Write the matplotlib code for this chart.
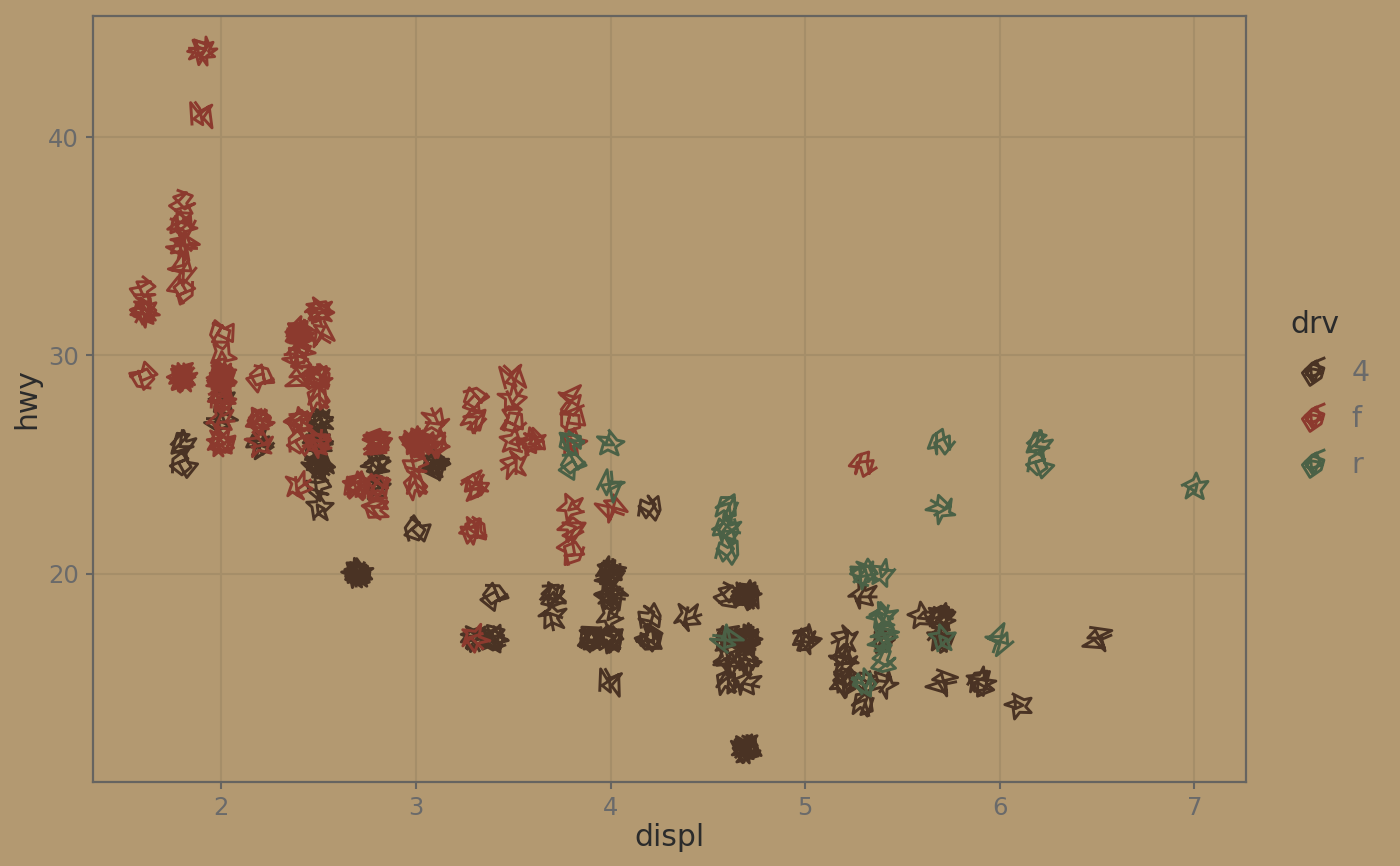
import matplotlib
matplotlib.use('Agg')
import matplotlib.pyplot as plt
from matplotlib.lines import Line2D
from matplotlib.markers import MarkerStyle
from matplotlib.path import Path
from matplotlib.transforms import Affine2D

# mpg values, one list per drv level
displ_4 = [1.8, 1.8, 2.0, 2.0, 2.8, 2.8, 3.1, 3.1, 2.8, 3.1, 4.2,
           5.3, 5.3, 5.3, 5.7, 6.5,
           3.7, 3.7, 3.9, 3.9, 4.7, 4.7, 4.7, 5.2, 5.2,
           3.9, 4.7, 4.7, 4.7, 5.2, 5.7, 5.9,
           4.7, 4.7, 4.7, 4.7, 4.7, 4.7, 5.2, 5.2, 5.7, 5.9,
           4.0, 4.0, 4.0, 4.0, 4.6, 5.0,
           4.2, 4.2, 4.6, 4.6, 4.6, 5.4, 5.4,
           3.0, 3.7, 4.0, 4.7, 4.7, 4.7, 5.7, 6.1,
           4.0, 4.2, 4.4, 4.6,
           4.0, 4.0, 4.6, 5.0,
           3.3, 3.3, 4.0, 5.6,
           2.5, 2.5, 2.5, 2.5, 2.5, 2.5,
           2.2, 2.2, 2.5, 2.5, 2.5, 2.5, 2.5, 2.5,
           2.7, 2.7, 3.4, 3.4, 4.0, 4.7,
           4.7, 4.7, 4.7, 5.7, 5.7,
           2.7, 2.7, 2.7, 3.4, 3.4, 4.0, 4.0]
hwy_4 = [26, 25, 28, 27, 25, 25, 25, 25, 24, 25, 23,
         19, 14, 15, 17, 17,
         19, 18, 17, 17, 19, 19, 12, 17, 15,
         17, 17, 12, 17, 16, 18, 15,
         16, 12, 17, 17, 16, 12, 15, 16, 17, 15,
         17, 17, 18, 19, 19, 17,
         17, 17, 16, 16, 17, 15, 17,
         22, 19, 20, 17, 12, 19, 18, 14,
         15, 18, 18, 15,
         17, 19, 17, 17,
         17, 17, 20, 18,
         25, 24, 27, 25, 26, 23,
         26, 26, 26, 26, 25, 27, 25, 27,
         20, 20, 19, 17, 20, 17,
         15, 19, 19, 18, 15,
         20, 20, 20, 17, 17, 19, 20]

displ_f = [1.8, 1.8, 2.0, 2.0, 2.8, 2.8, 3.1,
           2.4, 2.4, 3.1, 3.5, 3.6,
           2.4, 3.0, 3.3, 3.3, 3.3, 3.3, 3.3, 3.8, 3.8, 3.8, 4.0,
           1.6, 1.6, 1.6, 1.6, 1.6, 1.8, 1.8, 1.8, 2.0,
           2.4, 2.4, 2.4, 2.4, 2.5, 2.5, 3.3,
           2.0, 2.0, 2.0, 2.0, 2.7, 2.7, 2.7,
           2.4, 2.4, 2.5, 2.5, 3.5, 3.5, 3.0, 3.0, 3.5,
           3.1, 3.8, 3.8, 3.8, 5.3,
           2.2, 2.2, 2.4, 2.4, 3.0, 3.0, 3.5,
           2.2, 2.2, 2.4, 2.4, 3.0, 3.0, 3.3,
           1.8, 1.8, 1.8, 1.8, 1.8,
           2.0, 2.0, 2.0, 2.0, 2.8,
           1.9, 2.0, 2.0, 2.0, 2.0, 2.5, 2.5, 2.8, 2.8,
           1.9, 1.9, 2.0, 2.0, 2.5, 2.5,
           1.8, 1.8, 2.0, 2.0, 2.8, 2.8, 3.6, 2.5, 3.0]
hwy_f = [29, 29, 31, 30, 26, 26, 27,
         27, 30, 26, 29, 26,
         24, 24, 22, 22, 24, 24, 17, 22, 21, 23, 23,
         33, 32, 32, 29, 32, 34, 36, 36, 29,
         26, 27, 30, 31, 26, 26, 28,
         26, 29, 28, 27, 24, 24, 24,
         29, 31, 32, 32, 27, 26, 26, 26, 25,
         26, 27, 26, 28, 25,
         26, 27, 31, 31, 26, 26, 28,
         27, 29, 31, 31, 26, 26, 27,
         33, 29, 35, 37, 35,
         29, 29, 28, 29, 24,
         44, 29, 26, 29, 29, 29, 29, 23, 24,
         44, 41, 29, 26, 28, 29,
         29, 29, 28, 29, 26, 26, 26, 31, 25]

displ_r = [5.3, 5.3, 5.3, 5.7, 6.0,
           5.7, 5.7, 6.2, 6.2, 7.0,
           4.6, 5.4, 5.4,
           3.8, 3.8, 4.0, 4.0, 4.6, 4.6, 4.6, 4.6, 5.4,
           5.4, 5.4, 5.4]
hwy_r = [20, 15, 20, 17, 17,
         26, 23, 26, 25, 24,
         17, 17, 18,
         26, 25, 26, 24, 21, 22, 23, 22, 20,
         17, 16, 18]

levels = ['4', 'f', 'r']

# hand drawn scribbles used as point markers
scribbles = [
    [(-0.9, -0.2), (0.1, 0.9), (0.3, 0.1), (1.0, 0.3), (0.2, -0.9), (-0.7, -0.6), (0.5, 0.6),
     (-0.4, 0.7), (-0.8, -0.8), (0.8, -0.3), (-0.2, -0.3), (0.0, 1.0)],
    [(-1.0, 0.1), (-0.2, 0.8), (0.9, 0.6), (0.4, -0.2), (0.8, -0.8), (-0.5, -0.9), (-0.1, 0.3),
     (0.6, 0.0), (-0.7, 0.6), (-0.6, -0.5), (0.3, -0.6), (0.7, 0.8)],
    [(0.0, 1.0), (0.5, 0.1), (1.0, -0.1), (0.3, -0.4), (0.4, -1.0), (-0.3, -0.5), (-0.9, -0.7),
     (-0.5, 0.1), (-0.9, 0.6), (-0.1, 0.4), (0.2, -0.2), (-0.4, -0.1), (0.1, 0.8)],
    [(-0.8, 0.7), (0.9, 0.9), (0.2, 0.3), (0.8, -0.7), (-0.2, -0.1), (-0.9, -0.8), (0.7, -0.5),
     (-0.3, 0.6), (-0.7, -0.1), (0.5, 0.2), (1.0, 0.6)],
    [(-0.3, 1.0), (0.8, 0.4), (0.3, -0.1), (0.6, -0.9), (-0.4, -0.7), (-1.0, -0.1), (-0.2, 0.2),
     (0.4, 0.7), (-0.6, 0.5), (0.1, -0.5), (0.9, -0.2), (-0.7, -0.5)],
    [(-1.0, -0.3), (0.2, 0.2), (-0.1, 1.0), (0.6, 0.3), (1.0, 0.5), (0.5, -0.3), (0.8, -0.9),
     (0.0, -0.4), (-0.6, -1.0), (-0.4, -0.1), (-0.9, 0.4), (0.3, 0.6), (0.1, -0.8)],
]
legend_scribble = [(0.85, 1.0), (-0.1, 0.6), (-0.8, -0.1), (-0.25, -1.0), (0.55, -0.45), (0.75, 0.25),
                   (-0.1, 0.55), (-0.5, -0.2), (0.1, -0.6), (0.4, 0.1), (-0.2, 0.2), (-0.1, -0.7),
                   (-0.6, 0.1), (0.2, 0.75), (0.6, -0.1), (-0.3, -0.4)]

bg = '#b39971'
grid_col = '#a58e69'
frame_col = '#666460'
tick_txt = '#6a6a6a'
dark_txt = '#2b2b2b'
colors = {'4': '#4a3324', 'f': '#8c3a2e', 'r': '#4b6146'}


def scribble_marker(i):
    # each point gets its own turned copy of a scribble
    path = Path(scribbles[i % len(scribbles)])
    return MarkerStyle(path, transform=Affine2D().rotate_deg((i * 47) % 360))


fig = plt.figure(figsize=(14, 8.66), dpi=100, facecolor=bg)
ax = fig.add_axes([93 / 1400, 1 - 782 / 866, 1153 / 1400, 766 / 866], facecolor=bg)

groups = [('4', displ_4, hwy_4), ('f', displ_f, hwy_f), ('r', displ_r, hwy_r)]
n = 0
for drv, xs, ys in groups:
    for x, y in zip(xs, ys):
        ax.scatter([x], [y], marker=scribble_marker(n), s=370, facecolors='none',
                   edgecolors=colors[drv], linewidths=2.1, zorder=3)
        n += 1

ax.set_xlim(1.34, 7.265)
ax.set_ylim(10.45, 45.55)
ax.set_xticks([2, 3, 4, 5, 6, 7])
ax.set_yticks([20, 30, 40])
ax.grid(True, color=grid_col, linewidth=1.5, zorder=1)
ax.set_axisbelow(True)
ax.tick_params(length=5, width=1.5, color=frame_col, labelcolor=tick_txt, labelsize=17.5, pad=5)
for s in ax.spines.values():
    s.set_color(frame_col)
    s.set_linewidth(1.6)

ax.set_xlabel('displ', fontsize=21.5, color=dark_txt, labelpad=2)
ax.set_ylabel('hwy', fontsize=21.5, color=dark_txt, labelpad=5)

legend_marker = MarkerStyle(Path(legend_scribble))
handles = [Line2D([], [], linestyle='none', marker=legend_marker, markersize=20,
                  markerfacecolor='none', markeredgecolor=colors[d], markeredgewidth=2.1, label=d)
           for d in levels]
leg = fig.legend(handles=handles, title='drv', loc='upper left', bbox_to_anchor=(1265 / 1400, 1 - 284 / 866),
                 frameon=False, fontsize=20.5, title_fontsize=21.5, labelspacing=0.62,
                 handletextpad=0.53, handlelength=1.6, labelcolor=tick_txt)
leg.get_title().set_color(dark_txt)
leg._legend_box.align = 'left'
leg._legend_box.sep = 15

fig.savefig('out.png', dpi=100, facecolor=bg)
